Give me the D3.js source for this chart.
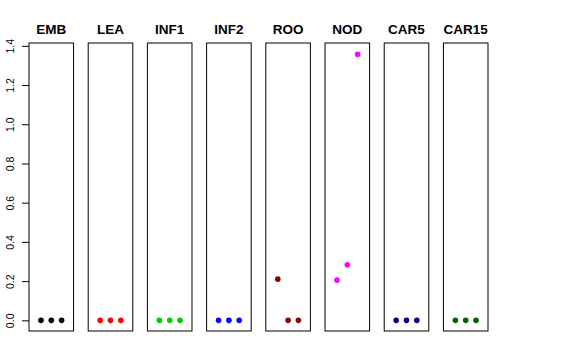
<!DOCTYPE html>
<html>
<head>
<meta charset="utf-8">
<style>
  body { margin: 0; background: #fff; }
  text { font-family: "Liberation Sans", Arial, sans-serif; }
</style>
<script src="https://d3js.org/d3.v7.min.js"></script>
</head>
<body>
<svg id="chart" width="576" height="360"></svg>
<script>
var tissues = ["EMB", "LEA", "INF1", "INF2", "ROO", "NOD", "CAR5", "CAR15"];
var colors = ["#000000", "#FF0000", "#00CD00", "#0000FF", "#8B0000", "#FF00FF", "#00008B", "#006400"];
// three replicates per tissue
var replicates = [1, 2, 3];
var values = [
  [0, 0, 0],
  [0, 0, 0],
  [0, 0, 0],
  [0, 0, 0],
  [0.21, 0, 0],
  [0.205, 0.283, 1.357],
  [0, 0, 0],
  [0, 0, 0]
];
var yTicks = [0, 0.2, 0.4, 0.6, 0.8, 1.0, 1.2, 1.4];

var svg = d3.select("#chart");

var panel = d3.scaleBand().domain(tissues).range([29, 488]).paddingInner(0.247);
var y = d3.scaleLinear().domain([-0.0544, 1.4144]).range([331, 43]);
var x = d3.scaleLinear().domain([-0.16, 4.16]).range([0, panel.bandwidth()]);

// y axis on the first panel
var yAxis = svg.append("g")
  .attr("transform", "translate(" + panel(tissues[0]) + ",0)")
  .call(d3.axisLeft(y).tickValues(yTicks).tickSize(7).tickFormat(d3.format(".1f")));
yAxis.select(".domain").remove();
yAxis.selectAll(".tick line").attr("stroke", "#000");
yAxis.selectAll(".tick text")
  .attr("transform", "rotate(-90)")
  .attr("x", 0).attr("y", -15.5).attr("dy", 0)
  .attr("text-anchor", "middle")
  .attr("font-size", "10.5px")
  .attr("fill", "#000")
  .attr("font-family", "Liberation Sans, Arial, sans-serif");

tissues.forEach(function (t, i) {
  var g = svg.append("g").attr("transform", "translate(" + panel(t) + ",0)");
  g.append("rect")
    .attr("x", 0).attr("y", 43)
    .attr("width", panel.bandwidth()).attr("height", 288)
    .attr("fill", "none").attr("stroke", "#000").attr("stroke-width", 1);
  g.append("text")
    .attr("x", panel.bandwidth() / 2).attr("y", 33.5)
    .attr("text-anchor", "middle")
    .attr("font-weight", "bold").attr("font-size", "13.5px")
    .text(t);
  g.selectAll("circle").data(values[i]).enter().append("circle")
    .attr("cx", function (d, j) { return x(replicates[j]); })
    .attr("cy", function (d) { return y(d); })
    .attr("r", 2.8)
    .attr("fill", colors[i]);
});
</script>
</body>
</html>
